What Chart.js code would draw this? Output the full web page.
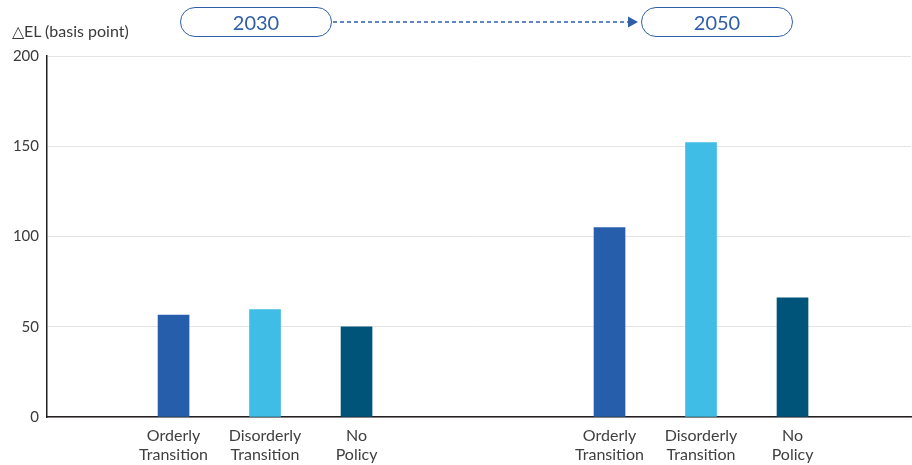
<!DOCTYPE html>
<html>
<head>
<meta charset="utf-8">
<script src="https://cdn.jsdelivr.net/npm/chart.js@4"></script>
<style>
  html, body { margin: 0; padding: 0; background: #fff; }
  #wrap { position: relative; width: 912px; height: 465px; }
  canvas { position: absolute; left: 0; top: 0; }
  .ylabel { position: absolute; left: 12px; top: 21px; font: 16px Lato, "Noto Sans", sans-serif; color: #3a3a3a; }
  .pill { position: absolute; top: 7px; height: 28px; border: 1.3px solid #2f5fa8; border-radius: 15px;
          font: 20px Lato, "Noto Sans", sans-serif; color: #2f5fa8; text-align: center; line-height: 28px; }
  svg { position: absolute; left: 0; top: 0; }
</style>
</head>
<body>
<div id="wrap">
  <canvas id="c" width="912" height="465"></canvas>
  <div class="ylabel">△EL (basis point)</div>
  <div class="pill" style="left:180px;width:150px;">2030</div>
  <div class="pill" style="left:641px;width:150px;">2050</div>
  <svg width="912" height="465">
    <line x1="333" y1="22" x2="628" y2="22" stroke="#2f5fa8" stroke-width="1.6" stroke-dasharray="4,3"/>
    <polygon points="628,16.5 638,22 628,27.5" fill="#2f5fa8"/>
  </svg>
</div>
<script>
const categories = [
  ["Orderly", "Transition"], ["Disorderly", "Transition"], ["No", "Policy"],
  ["Orderly", "Transition"], ["Disorderly", "Transition"], ["No", "Policy"]
];
const years = ["2030", "2030", "2030", "2050", "2050", "2050"];
const values = [56.5, 59.5, 50, 105, 152, 66];
const yTicks = [0, 50, 100, 150, 200];
const xSlots = [1.383, 2.383, 3.383, 6.148, 7.148, 8.148];
const colors = ["#275eab", "#3fbde6", "#015479", "#275eab", "#3fbde6", "#015479"];

const data = values.map((v, i) => ({ x: xSlots[i], y: v }));

new Chart(document.getElementById("c"), {
  type: "bar",
  data: {
    datasets: [{
      data: data,
      backgroundColor: colors,
      barThickness: 31,
      borderWidth: 0
    }]
  },
  options: {
    responsive: false,
    animation: false,
    layout: { padding: { top: 56, right: 1, left: 0, bottom: 0 } },
    plugins: { legend: { display: false }, tooltip: { enabled: false } },
    scales: {
      x: {
        type: "linear",
        offset: false,
        min: 0,
        max: 9.443,
        afterBuildTicks: s => { s.ticks = xSlots.map(v => ({ value: v })); },
        afterFit: s => { s.height = 48; },
        grid: { display: false, drawTicks: false },
        border: { display: true, color: "#231f20", width: 1.5 },
        ticks: {
          autoSkip: false,
          maxRotation: 0,
          padding: 9,
          color: "#404040",
          font: { family: "Lato, 'Noto Sans', sans-serif", size: 16, lineHeight: 1.2 },
          callback: (v) => { const i = xSlots.indexOf(v); return i >= 0 ? categories[i] : ""; }
        }
      },
      y: {
        min: 0,
        max: 200,
        afterBuildTicks: s => { s.ticks = yTicks.map(v => ({ value: v })); },
        afterFit: s => { s.width = 47; },
        grid: { color: "#e4e4e4", lineWidth: 1, drawTicks: false },
        border: { display: true, color: "#231f20", width: 1.5 },
        ticks: {
          padding: 8,
          color: "#3a3a3a",
          font: { family: "Lato, 'Noto Sans', sans-serif", size: 15 }
        }
      }
    }
  }
});
</script>
</body>
</html>
